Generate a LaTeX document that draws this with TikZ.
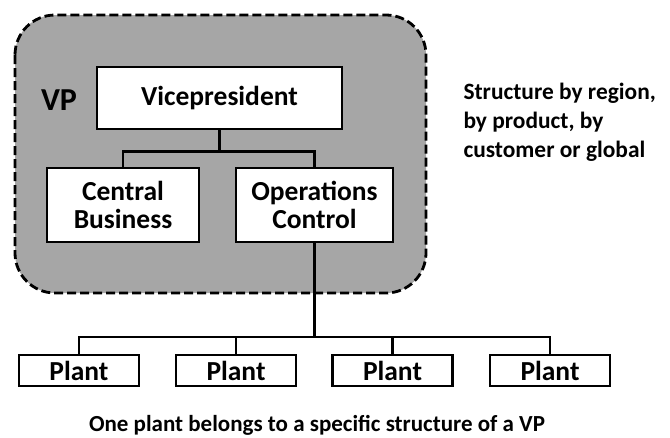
\documentclass[tikz,border=0pt]{standalone}
\usepackage{fontspec}
\setmainfont{Carlito}
\usepackage{tikz}
\usetikzlibrary{positioning}

\begin{document}
\begin{tikzpicture}[x=1pt, y=-1pt,
  unit/.style = {draw, fill = white, line width = 2.6pt, shape = rectangle, inner sep = 0pt, font = \fontsize{27.5}{28}\selectfont\bfseries, align = center},
  link/.style = {line width = 2.6pt}]
\useasboundingbox (0,0) rectangle (670,437);
% region of the VP
\draw[fill = black!35, dash pattern = on 9pt off 4pt, line width = 2.8pt, rounded corners = 40pt] (15,15) rectangle (426,293);
\node[font = \fontsize{32}{34}\selectfont\bfseries] (vp) at (59,100) {VP};
\node[unit, minimum width = 245pt, minimum height = 62pt] (vice) at (219.5,98) {Vicepresident};
\node[unit, minimum width = 152pt, minimum height = 74pt] (cb) at (123,205) {Central\\Business};
\node[unit, minimum width = 157pt, minimum height = 74pt] (oc) at (314.5,205) {Operations\\Control};
% plants
\foreach \i/\x in {1/79, 2/236, 3/392.5, 4/550}
  \node[unit, minimum width = 120pt, minimum height = 31pt] (p\i) at (\x,370.5) {Plant};
\draw[link] (vice.south) -- ++(0,21) coordinate (split) -| (cb.north);
\draw[link] (split) -| (oc.north);
\coordinate (bus) at (314.5,337);
\foreach \i in {1,...,4}
  \draw[link] (oc.south) -- (bus) -| (p\i.north);
\node[anchor = west, align = left, font = \fontsize{23.4}{29}\selectfont\bfseries] (note) at (460,122) {Structure by region,\\by product, by\\customer or global};
\node[font = \fontsize{23}{25}\selectfont\bfseries] (caption) at (317,425) {One plant belongs to a specific structure of a VP};
\end{tikzpicture}
\end{document}
